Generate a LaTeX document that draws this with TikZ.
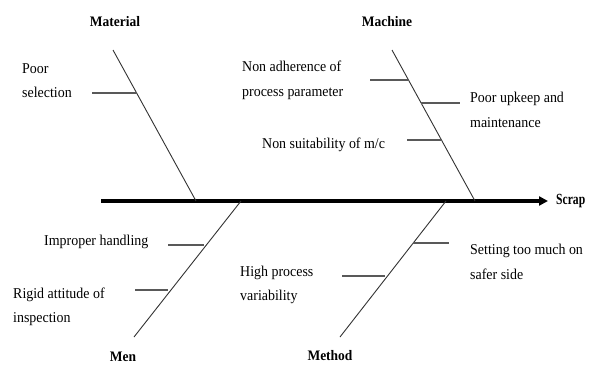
\documentclass[tikz,border=0pt]{standalone}
\usepackage{fontspec}
\setmainfont{Liberation Serif}[FakeStretch=0.93]
\newfontfamily\scrapfont{Liberation Serif}[FakeStretch=0.75]
\usetikzlibrary{arrows.meta}
\begin{document}
\begin{tikzpicture}[x=1pt,y=-1pt,
  lbl/.style={font=\fontsize{15}{24.5}\selectfont, inner sep=0pt, anchor=west, align=left},
  cat/.style={font=\fontsize{14.5}{17}\selectfont\bfseries, inner sep=0pt},
  bone/.style={draw=black!80, line width=0.9pt},
  sub/.style={draw=black!65, line width=1.3pt},
  spine/.style={draw=black, line width=3.8pt, -{Triangle[length=9pt,width=9pt]}}]
\useasboundingbox (0,0) rectangle (590,367);
% spine
\coordinate (tail) at (101,201);
\coordinate (head) at (548,201);
\draw[spine] (tail) -- (head);
\node[cat, anchor=west, font=\scrapfont\fontsize{15.5}{18}\selectfont\bfseries] (scrap) at (556,201) {Scrap};
% category labels
\node[cat] (matl) at (115,22) {Material};
\node[cat] (mach) at (387,22) {Machine};
\node[cat] (men) at (123,357) {Men};
\node[cat] (meth) at (330,356) {Method};
% bones
\coordinate (matT) at (113,50);  \coordinate (matB) at (196,201);
\coordinate (macT) at (392,50);  \coordinate (macB) at (475,201);
\coordinate (menT) at (241,201); \coordinate (menB) at (134,337);
\coordinate (metT) at (446,201); \coordinate (metB) at (340,337);
\draw[bone] (matT) -- (matB);
\draw[bone] (macT) -- (macB);
\draw[bone] (menT) -- (menB);
\draw[bone] (metT) -- (metB);
% cause labels
\node[lbl] (ps) at (22,80.5) {Poor\\selection};
\node[lbl] (na) at (242,80.5) {Non adherence of\\process parameter};
\node[lbl] (pu) at (470,110) {Poor upkeep and\\maintenance};
\node[lbl] (ns) at (262,145) {Non suitability of m/c};
\node[lbl] (ih) at (44,242) {Improper handling};
\node[lbl] (ra) at (13,307) {Rigid attitude of\\inspection};
\node[lbl] (hp) at (240,285) {High process\\variability};
\node[lbl] (st) at (470,262) {Setting too much on\\safer side};
% sub-bones
\coordinate (s1a) at (92,93);   \coordinate (s1b) at (137,93);
\coordinate (s2a) at (370,80);  \coordinate (s2b) at (408,80);
\coordinate (s3a) at (421,103); \coordinate (s3b) at (460,103);
\coordinate (s4a) at (407,140); \coordinate (s4b) at (442,140);
\coordinate (s5a) at (168,245); \coordinate (s5b) at (204,245);
\coordinate (s6a) at (135,290); \coordinate (s6b) at (168,290);
\coordinate (s7a) at (413,243); \coordinate (s7b) at (449,243);
\coordinate (s8a) at (342,276); \coordinate (s8b) at (385,276);
\draw[sub] (s1a) -- (s1b);
\draw[sub] (s2a) -- (s2b);
\draw[sub] (s3a) -- (s3b);
\draw[sub] (s4a) -- (s4b);
\draw[sub] (s5a) -- (s5b);
\draw[sub] (s6a) -- (s6b);
\draw[sub] (s7a) -- (s7b);
\draw[sub] (s8a) -- (s8b);
\end{tikzpicture}
\end{document}
